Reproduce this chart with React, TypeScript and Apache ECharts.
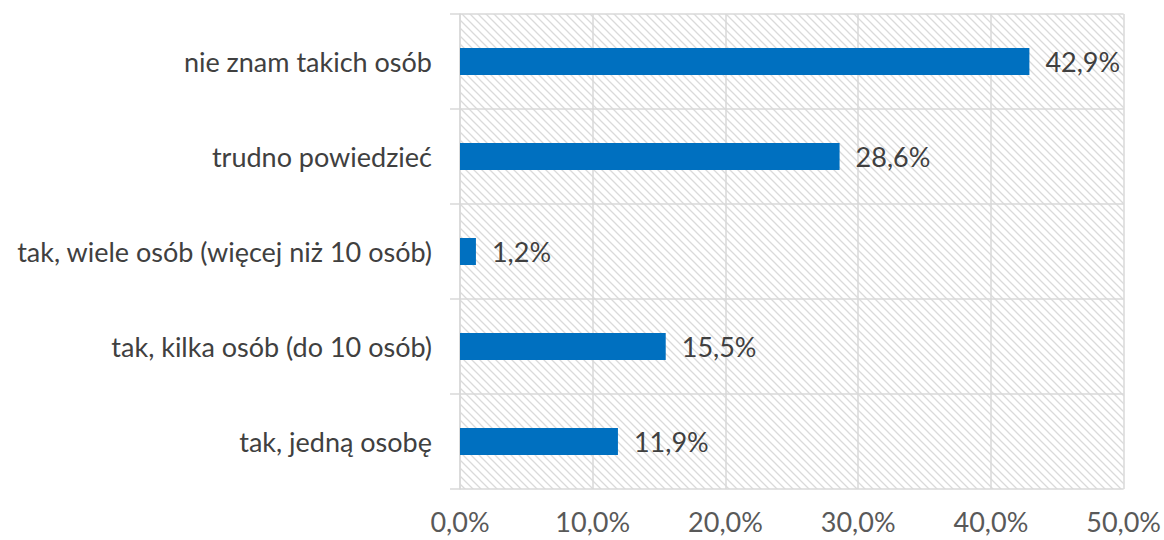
import React, { useEffect, useRef } from "react";
import * as echarts from "echarts";

const categories = [
  "nie znam takich osób",
  "trudno powiedzieć",
  "tak, wiele osób (więcej niż 10 osób)",
  "tak, kilka osób (do 10 osób)",
  "tak, jedną osobę",
];
const values = [42.9, 28.6, 1.2, 15.5, 11.9];
const axisMin = 0;
const axisMax = 50;
const axisStep = 10;

const fmt = (v: number) => v.toFixed(1).replace(".", ",") + "%";

function makeHatch(): HTMLCanvasElement {
  const c = document.createElement("canvas");
  const s = 8;
  c.width = s;
  c.height = s;
  const ctx = c.getContext("2d")!;
  ctx.fillStyle = "#ffffff";
  ctx.fillRect(0, 0, s, s);
  ctx.strokeStyle = "#dadada";
  ctx.lineWidth = 1.3;
  ctx.beginPath();
  ctx.moveTo(-2, -2);
  ctx.lineTo(s + 2, s + 2);
  ctx.moveTo(-2, s - 2);
  ctx.lineTo(2, s + 2);
  ctx.moveTo(s - 2, -2);
  ctx.lineTo(s + 2, 2);
  ctx.stroke();
  return c;
}

export default function App() {
  const ref = useRef<HTMLDivElement>(null);
  useEffect(() => {
    if (!ref.current) return;
    const chart = echarts.init(ref.current, undefined, { renderer: "svg" });
    const font = "Lato, 'Noto Sans', sans-serif";
    chart.setOption({
      animation: false,
      grid: {
        left: 460,
        right: 40,
        top: 14,
        bottom: 51,
        show: true,
        backgroundColor: { image: makeHatch(), repeat: "repeat" },
        borderWidth: 0,
      },
      xAxis: {
        type: "value",
        min: axisMin,
        max: axisMax,
        interval: axisStep,
        axisLine: { show: false },
        axisTick: { show: false },
        splitLine: { show: true, lineStyle: { color: "#d9d9d9", width: 1.5 } },
        axisLabel: {
          formatter: (v: number) => fmt(v),
          color: "#595959",
          fontSize: 27,
          fontFamily: font,
          margin: 19,
        },
      },
      yAxis: {
        type: "category",
        data: categories,
        inverse: true,
        axisLine: { show: true, lineStyle: { color: "#d9d9d9", width: 1.5 } },
        axisTick: { show: true, length: 10, lineStyle: { color: "#d9d9d9", width: 1.5 } },
        splitLine: { show: true, lineStyle: { color: "#d9d9d9", width: 1.5 } },
        axisLabel: {
          color: "#404040",
          fontSize: 27,
          fontFamily: font,
          margin: 28,
        },
      },
      series: [
        {
          type: "bar",
          data: values,
          barWidth: 27,
          itemStyle: { color: "#0070C0" },
          label: {
            show: true,
            position: "right",
            distance: 16,
            formatter: (p: any) => fmt(p.value),
            color: "#404040",
            fontSize: 27,
            fontFamily: font,
          },
        },
      ],
    });
    return () => chart.dispose();
  }, []);
  return (
    <div
      ref={ref}
      style={{ position: "fixed", left: 0, top: 0, width: 1164, height: 540, background: "#fff" }}
    />
  );
}
